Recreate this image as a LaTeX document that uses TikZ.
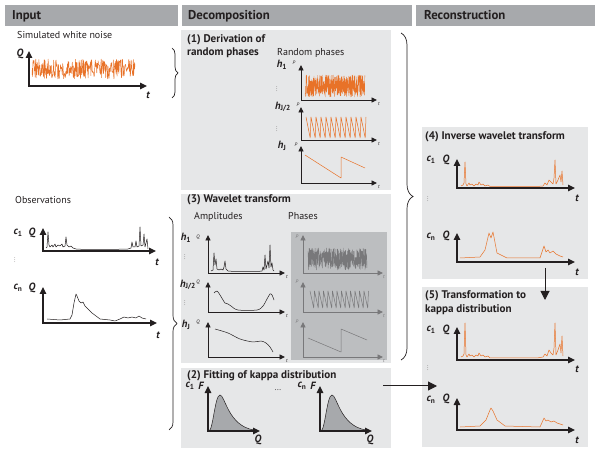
\documentclass[tikz,border=0pt]{standalone}
\usepackage{fontspec}
\setmainfont{PT Sans}
\usetikzlibrary{arrows.meta, decorations.pathreplacing}

\definecolor{headgray}{RGB}{167,169,172}
\definecolor{panelgray}{RGB}{230,231,232}
\definecolor{phasegray}{RGB}{188,190,192}
\definecolor{phaseline}{RGB}{120,120,122}
\definecolor{noiseorange}{RGB}{232,114,40}
\definecolor{ink}{RGB}{35,31,32}

\begin{document}
\begin{tikzpicture}[x=1pt, y=-1pt, font=\fontsize{10}{11}\selectfont, text=ink]
        % Setup the styles
        \tikzset{header/.style={font=\fontsize{12.8}{14}\selectfont\bfseries, anchor=base west, inner sep=0},
                 title/.style={font=\fontsize{11.1}{12}\selectfont\bfseries, anchor=base west, inner sep=0},
                 caption/.style={anchor=base west, inner sep=0},
                 axis/.style={draw=ink, line width=1.1pt, {Triangle[length=7pt,width=6.5pt]}-{Triangle[length=7pt,width=6.5pt]}},
                 small axis/.style={draw=ink, line width=0.9pt, {Triangle[length=5.5pt,width=5pt]}-{Triangle[length=5.5pt,width=5pt]}},
                 lab/.style={font=\fontsize{10.5}{11}\selectfont\bfseries\itshape, inner sep=0},
                 tiny lab/.style={font=\fontsize{5}{5}\selectfont\itshape, inner sep=0},
                 dots/.style={inner sep=0, text=ink},
                 series/.style={line width=0.5pt, line join=round},
                 brace/.style={draw=ink, line width=0.7pt, decorate, decoration={brace, amplitude=#1}},
                 flow/.style={draw=ink, line width=1pt, -{Triangle[length=9pt,width=9pt]}}}
        \pgfmathsetseed{42}

        % Draw the column headers
        \fill[headgray] (5,5) rectangle (178,26);
        \fill[headgray] (182,5) rectangle (412,26);
        \fill[headgray] (416,5) rectangle (595,26);
        \node[header] at (12,20) (hinput) {Input};
        \node[header] at (188,20) (hdecomp) {Decomposition};
        \node[header] at (424,20) (hrecon) {Reconstruction};

        % Draw the panels
        \fill[panelgray] (181,30) rectangle (391,190);
        \fill[panelgray] (181,194) rectangle (391,363);
        \fill[panelgray] (181,368) rectangle (391,448);
        \fill[panelgray] (422,127) rectangle (588,279);
        \fill[panelgray] (422,287) rectangle (588,447);
        \fill[phasegray] (291,232) rectangle (387,360);

        % Panel titles and captions
        \node[caption] at (17,39) (cnoise) {Simulated white noise};
        \node[caption] at (15,204) (cobs) {Observations};
        \node[title] at (187,43) (t1a) {(1) Derivation of};
        \node[title] at (187,56) (t1b) {random phases};
        \node[caption] at (277,56) (crand) {Random phases};
        \node[title] at (187,203) (t3) {(3) Wavelet transform};
        \node[caption] at (194,220) (camp) {Amplitudes};
        \node[caption] at (288,220) (cpha) {Phases};
        \node[title] at (187,378) (t2) {(2) Fitting of kappa distribution};
        \node[title] at (425,140) (t4) {(4) Inverse wavelet transform};
        \node[title] at (425,299) (t5a) {(5) Transformation to};
        \node[title] at (425,313) (t5b) {kappa distribution};

        % Input: simulated white noise
        \begin{scope}[shift={(29,86)}, yscale=-1]
            \draw[series, noiseorange] plot[domain=3:106, samples=300] (\x, {17+10*rand});
            \draw[axis] (0,35) -- (0,0) -- (118,0);
            \node[lab] at (-9,32) (qnoise) {Q};
            \node[lab] at (119,-9) (tnoise) {t};
        \end{scope}

        % Input: observations
        \begin{scope}[shift={(43,251)}, yscale=-1]
            \draw[series, ink] plot coordinates {(3,3) (4,4) (5,19) (6,6) (7,4) (9,6) (10,4) (12,7) (13,4) (15,6) (17,5) (19,7) (20,4) (22,5) (23,14) (24,6) (26,4) (28,5) (30,3) (33,2) (42,1.5) (67,1.5) (85,2) (88,3) (89,9) (90,4) (92,4) (93,10) (94,4) (96,5) (97,24) (98,5) (100,6) (101,17) (102,4) (104,12) (105,2)};
            \draw[axis] (0,23) -- (0,0) -- (113,0);
            \node[lab] at (-25,18) (cobs1) {c\textsubscript{\upshape 1}};
            \node[lab] at (-11,18) (qobs1) {Q};
            \node[lab] at (114,-11) (tobs1) {t};
            \node[dots] at (-28,-8) (vobs) {\scalebox{0.5}{$\vdots$}};
        \end{scope}
        \begin{scope}[shift={(43,323)}, yscale=-1]
            \draw[series, ink] plot coordinates {(4,4) (17,3) (27,4) (29,8) (31,20) (33,29) (34,27) (36,22) (38,20) (40,21) (42,17) (45,14) (49,10) (53,7) (57,4) (67,3) (72,2) (77,4) (81,6) (85,5) (89,6) (93,5) (96,7) (99,5) (103,4)};
            \draw[axis] (0,36) -- (0,0) -- (114,0);
            \node[lab] at (-25,35) (cobsn) {c\textsubscript{\upshape n}};
            \node[lab] at (-11,35) (qobsn) {Q};
            \node[lab] at (115,-12) (tobsn) {t};
        \end{scope}

        % (1) Random phases
        \begin{scope}[shift={(301,100)}, yscale=-1]
            \draw[series, noiseorange, line width=0.4pt] plot[domain=4:64, samples=420] (\x, {3+22*rnd});
            \draw[small axis] (0,35) -- (0,0) -- (76,0);
            \node[lab] at (-19,35) (ph1) {h\textsubscript{\upshape 1}};
            \node[tiny lab] at (-7,37) (pp1) {P};
            \node[tiny lab] at (78,-4) (tp1) {t};
            \node[dots] at (-24,12) (vp1) {\scalebox{0.5}{$\vdots$}};
        \end{scope}
        \begin{scope}[shift={(301,140)}, yscale=-1]
            \draw[series, noiseorange] (5,23) \foreach \k in {0,...,11} { -- ({5+5*\k+4.2},2) -- ({5+5*(\k+1)},23) };
            \draw[small axis] (0,33) -- (0,0) -- (76,0);
            \node[lab] at (-18,33) (ph2) {h\textsubscript{\upshape J/2}};
            \node[tiny lab] at (-3,35) (pp2) {P};
            \node[tiny lab] at (78,-4) (tp2) {t};
            \node[dots] at (-24,12) (vp2) {\scalebox{0.5}{$\vdots$}};
        \end{scope}
        \begin{scope}[shift={(301,183)}, yscale=-1]
            \draw[series, noiseorange] (4,28) -- (40,5) -- (40,26) -- (64,15);
            \draw[small axis] (0,37) -- (0,0) -- (76,0);
            \node[lab] at (-19,37) (ph3) {h\textsubscript{\upshape J}};
            \node[tiny lab] at (-5,38) (pp3) {P};
            \node[tiny lab] at (78,-4) (tp3) {t};
        \end{scope}

        % (3) Wavelet transform: amplitudes
        \begin{scope}[shift={(208,273)}, yscale=-1]
            \draw[series, ink] plot coordinates {(3,2) (5,3) (6,20) (7,8) (8,14) (9,4) (11,3) (13,4) (15,3) (16,6) (17,12) (18,4) (20,2) (26,1.5) (50,1.5) (54,2) (55,6) (56,3) (57,18) (58,4) (60,12) (61,5) (62,28) (63,6) (64,10) (65,3) (66,2)};
            \draw[small axis] (0,38) -- (0,0) -- (77,0);
            \node[lab] at (-22,35) (ah1) {h\textsubscript{\upshape 1}};
            \node[tiny lab] at (-10,36) (aq1) {Q};
            \node[tiny lab] at (79,-4) (at1) {t};
            \node[dots] at (-23,17) (va1) {\scalebox{0.5}{$\vdots$}};
        \end{scope}
        \begin{scope}[shift={(208,312)}, yscale=-1]
            \draw[series, ink] plot[smooth] coordinates {(6,19) (9,21) (12,17) (17,9) (20,8) (23,6) (30,2) (49,2) (55,6) (59,13) (62,18) (64,17) (66,12)};
            \draw[small axis] (0,30) -- (0,0) -- (77,0);
            \node[lab] at (-20,27) (ah2) {h\textsubscript{\upshape J/2}};
            \node[tiny lab] at (-10,30) (aq2) {Q};
            \node[tiny lab] at (79,-4) (at2) {t};
            \node[dots] at (-23,10) (va2) {\scalebox{0.5}{$\vdots$}};
        \end{scope}
        \begin{scope}[shift={(208,357)}, yscale=-1]
            \draw[series, ink] plot[smooth] coordinates {(7,28) (20,24) (32,18) (45,15) (53,16) (58,14) (62,10) (65,5)};
            \draw[small axis] (0,35) -- (0,0) -- (77,0);
            \node[lab] at (-22,32) (ah3) {h\textsubscript{\upshape J}};
            \node[tiny lab] at (-10,35) (aq3) {Q};
            \node[tiny lab] at (79,-4) (at3) {t};
        \end{scope}

        % (3) Wavelet transform: phases
        \begin{scope}[shift={(303,273)}, yscale=-1]
            \draw[series, phaseline, line width=0.4pt] plot[domain=5:64, samples=420] (\x, {3+22*rnd});
            \draw[small axis, draw=phaseline] (0,38) -- (0,0) -- (80,0);
            \node[tiny lab, text=phaseline] at (-6,36) (pq1) {P};
            \node[tiny lab, text=phaseline] at (81,-4) (pt1) {t};
        \end{scope}
        \begin{scope}[shift={(303,312)}, yscale=-1]
            \draw[series, phaseline] (7,21) \foreach \k in {0,...,12} { -- ({7+4.5*\k+3.7},4) -- ({7+4.5*(\k+1)},21) };
            \draw[small axis, draw=phaseline] (0,30) -- (0,0) -- (80,0);
            \node[tiny lab, text=phaseline] at (-6,30) (pq2) {P};
            \node[tiny lab, text=phaseline] at (81,-4) (pt2) {t};
        \end{scope}
        \begin{scope}[shift={(303,357)}, yscale=-1]
            \draw[series, phaseline] (5,19) -- (38,5) -- (38,28) -- (64,17);
            \draw[small axis, draw=phaseline] (0,35) -- (0,0) -- (80,0);
            \node[tiny lab, text=phaseline] at (-6,35) (pq3) {P};
            \node[tiny lab, text=phaseline] at (81,-4) (pt3) {t};
        \end{scope}

        % (2) Kappa distribution
        \begin{scope}[shift={(208,431)}, yscale=-1]
            \filldraw[fill=headgray, draw=ink, line width=0.5pt] (1,0) .. controls (5,1) and (7,36) .. (12,36) .. controls (17,36) and (20,5) .. (46,1) -- (46,0) -- cycle;
            \draw[axis] (0,45) -- (0,0) -- (52,0);
            \node[lab] at (-18,45) (kc1) {c\textsubscript{\upshape 1}};
            \node[lab] at (-7,45) (kf1) {F};
            \node[lab] at (50,-9) (kq1) {Q};
        \end{scope}
        \node[inner sep=0, font=\fontsize{8}{8}\selectfont] at (278,390) (kdots) {...};
        \begin{scope}[shift={(320,431)}, yscale=-1]
            \filldraw[fill=headgray, draw=ink, line width=0.5pt] (1,0) .. controls (5,1) and (7,36) .. (12,36) .. controls (17,36) and (20,5) .. (46,1) -- (46,0) -- cycle;
            \draw[axis] (0,45) -- (0,0) -- (52,0);
            \node[lab] at (-18,45) (kcn) {c\textsubscript{\upshape n}};
            \node[lab] at (-7,45) (kfn) {F};
            \node[lab] at (50,-9) (kqn) {Q};
        \end{scope}

        % (4) Inverse wavelet transform
        \begin{scope}[shift={(457,188)}, yscale=-1]
            \draw[series, noiseorange] plot coordinates {(4,2) (6,3) (7,5) (8,26) (9,4) (10,2) (12,5) (13,3) (15,4) (17,2) (19,4) (21,3) (22,6) (24,3) (26,4) (28,2) (31,3) (33,1.5) (40,1.5) (80,1.5) (86,2) (88,5) (90,3) (92,8) (94,6) (96,4) (97,10) (98,28) (99,4) (101,8) (103,13) (104,6) (105,17) (106,3)};
            \draw[axis] (0,29) -- (0,0) -- (118,0);
            \node[lab] at (-26,28) (ic1) {c\textsubscript{\upshape 1}};
            \node[lab] at (-11,28) (iq1) {Q};
            \node[lab] at (120,-10) (it1) {t};
            \node[dots] at (-29,-10) (vi) {\scalebox{0.5}{$\vdots$}};
        \end{scope}
        \begin{scope}[shift={(457,262)}, yscale=-1]
            \draw[series, noiseorange] plot coordinates {(3,4) (23,5) (28,12) (32,29) (34,24) (36,30) (40,9) (50,4) (83,4) (87,16) (89,10) (91,12) (93,9) (96,11) (99,8) (103,6) (106,5)};
            \draw[axis] (0,29) -- (0,0) -- (118,0);
            \node[lab] at (-26,25) (icn) {c\textsubscript{\upshape n}};
            \node[lab] at (-11,26) (iqn) {Q};
            \node[lab] at (120,-10) (itn) {t};
        \end{scope}

        % (5) Transformation to kappa distribution
        \begin{scope}[shift={(457,360)}, yscale=-1]
            \draw[series, noiseorange] plot coordinates {(4,3) (6,4) (7,6) (8,37) (9,5) (10,3) (12,6) (13,4) (15,5) (17,3) (19,5) (21,4) (22,7) (24,4) (26,5) (28,3) (31,4) (33,2) (40,2) (80,2) (86,3) (88,6) (90,4) (92,10) (94,7) (96,5) (97,12) (98,37) (99,5) (101,10) (103,16) (104,7) (105,24) (106,4)};
            \draw[axis] (0,33) -- (0,0) -- (118,0);
            \node[lab] at (-26,30) (tc1) {c\textsubscript{\upshape 1}};
            \node[lab] at (-11,30) (tq1) {Q};
            \node[lab] at (120,-9) (tt1) {t};
            \node[dots] at (-29,-7) (vt) {\scalebox{0.5}{$\vdots$}};
        \end{scope}
        \begin{scope}[shift={(457,430)}, yscale=-1]
            \draw[series, noiseorange] plot coordinates {(3,3) (23,4) (29,10) (33,20) (34,22) (36,19) (40,10) (48,4) (83,3) (87,12) (89,9) (91,10) (94,8) (97,9) (100,7) (103,6) (106,5)};
            \draw[axis] (0,32) -- (0,0) -- (118,0);
            \node[lab] at (-26,30) (tcn) {c\textsubscript{\upshape n}};
            \node[lab] at (-11,31) (tqn) {Q};
            \node[lab] at (120,-10) (ttn) {t};
        \end{scope}

        % Braces
        \draw[brace=6] (172,48) -- (172,98);
        \draw[brace=8] (169,217) -- (169,430);
        \draw[brace=12] (401,33) -- (401,360);

        % Connect the panels with arrows
        \coordinate (from2) at (383,386);
        \coordinate (to5) at (437,386);
        \coordinate (from4) at (545,268);
        \coordinate (to5top) at (545,300);
        \draw[flow] (from2) -- (to5);
        \draw[flow] (from4) -- (to5top);

        \useasboundingbox (0,0) rectangle (600,454);
\end{tikzpicture}
\end{document}
